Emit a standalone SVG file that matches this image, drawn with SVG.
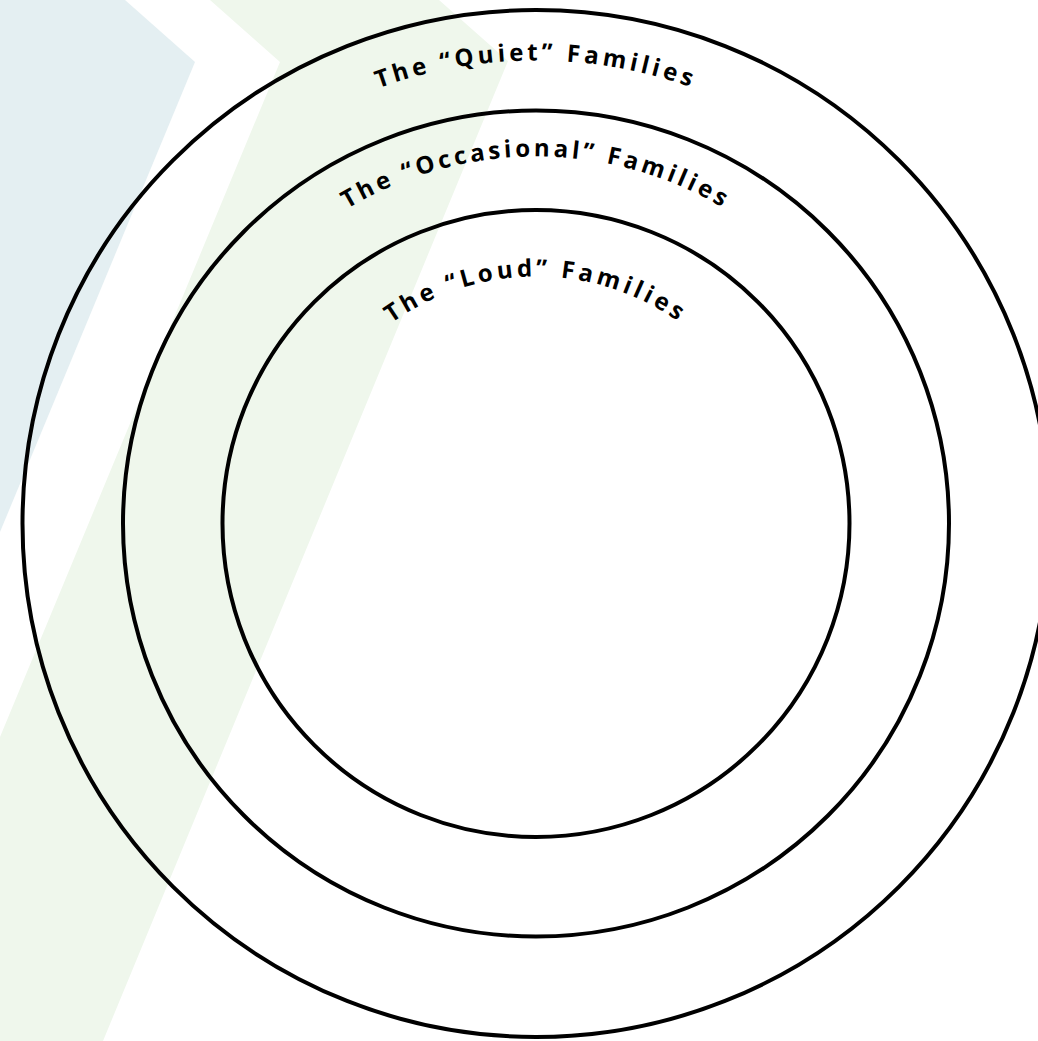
<svg xmlns="http://www.w3.org/2000/svg" width="1038" height="1041" viewBox="0 0 1038 1041">
  <style>
    .ring { fill: none; stroke: #000; stroke-width: 4; }
    .label { font-family: "Open Sans", "Liberation Sans", sans-serif; font-weight: 700; font-size: 24px; fill: #000; }
  </style>
  <defs>
    <path id="arcQuiet" d="M 73 523.5 A 463 463 0 0 1 999 523.5"/>
    <path id="arcOcc" d="M 169 523.5 A 367 367 0 0 1 903 523.5"/>
    <path id="arcLoud" d="M 289 523.5 A 247 247 0 0 1 783 523.5"/>
  </defs>
  <rect width="1038" height="1041" fill="#ffffff"/>
  <g id="background">
    <polygon points="0,0 125,0 195,62 0,532" fill="#e4eff2"/>
    <polygon points="210,0 439,0 508,61 103,1041 0,1041 0,737 280,62" fill="#eff7ec"/>
  </g>
  <g id="quiet">
    <circle class="ring" cx="536" cy="523.5" r="513.5"/>
    <text class="label" letter-spacing="3.9"><textPath href="#arcQuiet" startOffset="50%" text-anchor="middle">The “Quiet” Families</textPath></text>
  </g>
  <g id="occasional">
    <circle class="ring" cx="536" cy="523.5" r="413"/>
    <text class="label" letter-spacing="3.6"><textPath href="#arcOcc" startOffset="50%" text-anchor="middle">The “Occasional” Families</textPath></text>
  </g>
  <g id="loud">
    <circle class="ring" cx="536" cy="523.5" r="313.5"/>
    <text class="label" letter-spacing="3.8"><textPath href="#arcLoud" startOffset="50%" text-anchor="middle">The “Loud” Families</textPath></text>
  </g>
</svg>
